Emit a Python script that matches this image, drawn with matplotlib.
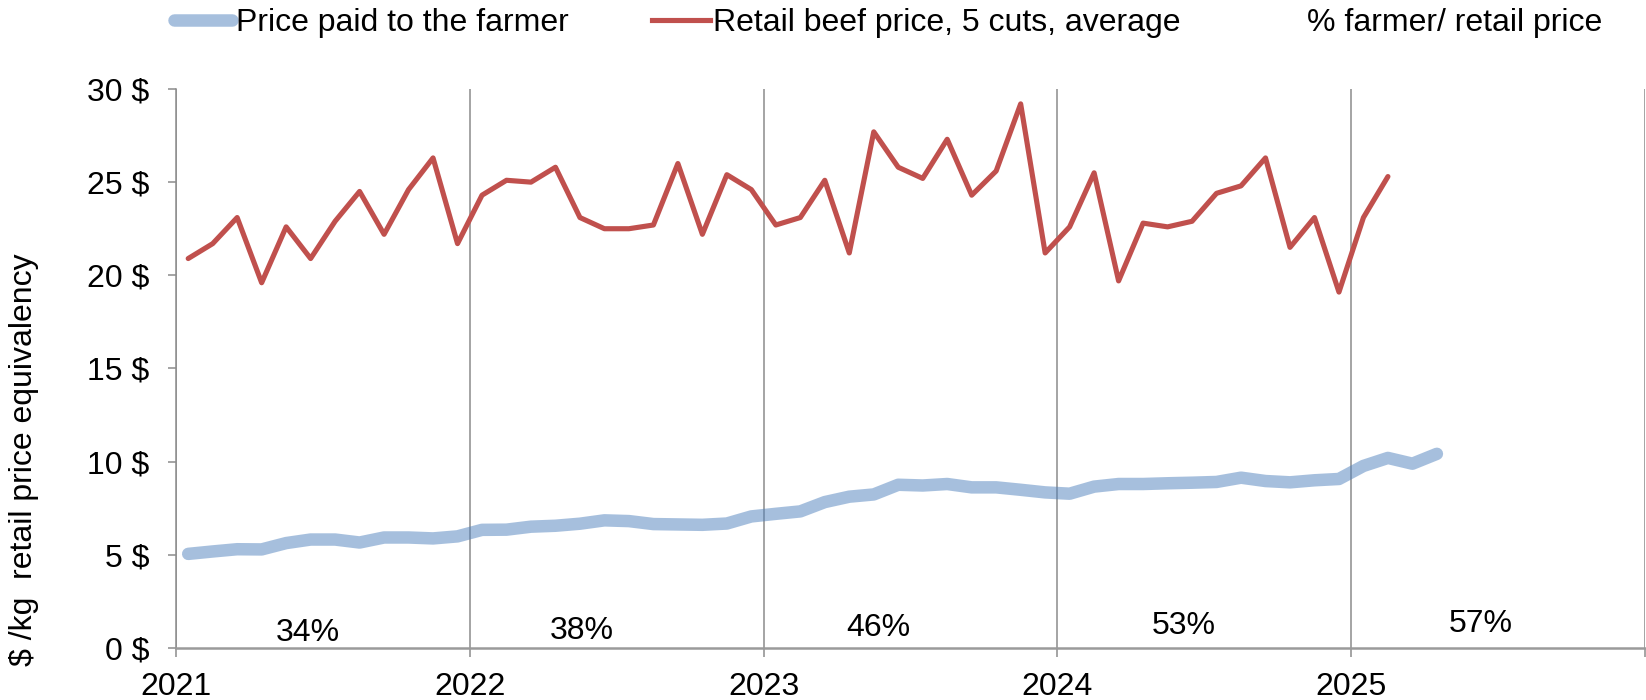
import numpy as np
import matplotlib
matplotlib.use("Agg")
import matplotlib.pyplot as plt
from matplotlib.lines import Line2D

plt.rcParams["font.family"] = ["Liberation Sans", "DejaVu Sans"]
plt.rcParams["font.size"] = 23

# monthly series, starting January 2021
start_year = 2021
retail = [20.9, 21.7, 23.1, 19.6, 22.6, 20.9, 22.9, 24.5, 22.2, 24.6, 26.3, 21.7,
          24.3, 25.1, 25.0, 25.8, 23.1, 22.5, 22.5, 22.7, 26.0, 22.2, 25.4, 24.6,
          22.7, 23.1, 25.1, 21.2, 27.7, 25.8, 25.2, 27.3, 24.3, 25.6, 29.2, 21.2,
          22.6, 25.5, 19.7, 22.8, 22.6, 22.9, 24.4, 24.8, 26.3, 21.5, 23.1, 19.1,
          23.1, 25.3]
farmer = [5.05, 5.18, 5.30, 5.29, 5.63, 5.82, 5.82, 5.66, 5.93, 5.93, 5.88, 5.99,
          6.34, 6.35, 6.51, 6.56, 6.67, 6.85, 6.81, 6.65, 6.63, 6.61, 6.68, 7.06,
          7.20, 7.33, 7.83, 8.12, 8.24, 8.76, 8.72, 8.80, 8.62, 8.62, 8.49, 8.35,
          8.28, 8.66, 8.80, 8.80, 8.84, 8.87, 8.91, 9.14, 8.96, 8.89, 9.00, 9.07,
          9.77, 10.20, 9.89, 10.42]

years = [2021, 2022, 2023, 2024, 2025]
pct_farmer = [34, 38, 46, 53, 57]
pct_label_x = [0.45, 0.38, 0.39, 0.43, 0.44]   # where each label sits inside its year

yticks = [0, 5, 10, 15, 20, 25, 30]

BLUE = "#4F81BD"
RED = "#C0504D"
GRID = "#8c8c8c"

x_retail = start_year + (np.arange(len(retail)) + 0.5) / 12
x_farmer = start_year + (np.arange(len(farmer)) + 0.5) / 12

fig = plt.figure(figsize=(16.46, 7.0), dpi=100)
ax = fig.add_axes([0.1069, 0.0743, 0.8925, 0.7986])

ax.plot(x_farmer, farmer, color=BLUE, alpha=0.5, lw=9, solid_capstyle="round",
        solid_joinstyle="round", zorder=3)
ax.plot(x_retail, retail, color=RED, lw=3.7, solid_capstyle="round",
        solid_joinstyle="round", zorder=4)

for yr, p, dx in zip(years, pct_farmer, pct_label_x):
    # labels ride a bit higher as the share grows
    ax.text(yr + dx, 0.02 * p - 0.3, f"{p}%", ha="center", va="baseline", zorder=5)

ax.set_xlim(2021, 2026)
ax.set_ylim(0, 30)
ax.set_xticks(years + [2026])
ax.set_xticklabels([str(y) for y in years] + [""])
ax.set_yticks(yticks)
ax.set_yticklabels([f"{v} $" for v in yticks])

ax.xaxis.grid(True, color=GRID, lw=1.1)
ax.yaxis.grid(False)
for s in ["top", "right"]:
    ax.spines[s].set_visible(False)
ax.spines["left"].set_color(GRID)
ax.spines["left"].set_linewidth(1.1)
ax.spines["bottom"].set_color("#9a9a9a")
ax.spines["bottom"].set_linewidth(1.8)
ax.tick_params(axis="y", direction="out", length=6, width=1.1, color=GRID, pad=13)
ax.tick_params(axis="x", direction="out", length=6.5, width=1.1, color=GRID, pad=11)

fig.text(0.0145, 0.343, "$ /kg  retail price equivalency", rotation=90,
         ha="center", va="center")

# legend entries placed one by one to follow the original spacing
entries = [
    (Line2D([], [], color=BLUE, alpha=0.5, lw=9, solid_capstyle="round"),
     "Price paid to the farmer", 0.106),
    (Line2D([], [], color=RED, lw=3.7), "Retail beef price, 5 cuts, average", 0.3962),
    (Line2D([], [], color="none"), "% farmer/ retail price", 0.757),
]
for h, lab, xpos in entries:
    fig.legend([h], [lab], loc="center left", bbox_to_anchor=(xpos, 0.967),
               frameon=False, handlelength=1.8, handletextpad=0.12,
               borderpad=0, borderaxespad=0, fontsize=23)

fig.savefig("out.png", dpi=100)
